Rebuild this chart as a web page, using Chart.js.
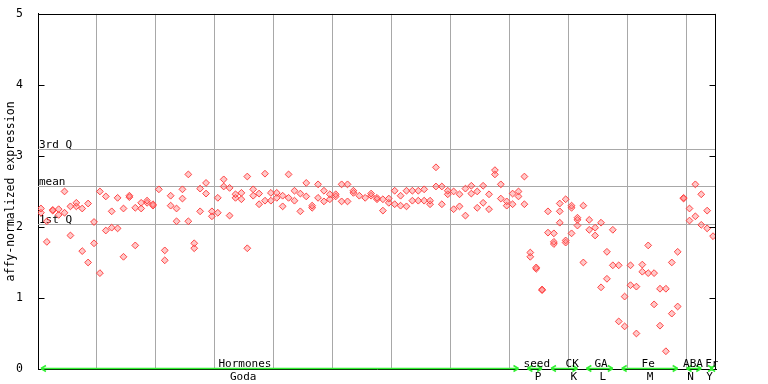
<!DOCTYPE html>
<html><head><meta charset="utf-8">
<script src="https://cdn.jsdelivr.net/npm/chart.js@4/dist/chart.umd.min.js"></script>
<style>html,body{margin:0;padding:0;background:#fff;}</style>
</head><body>
<canvas id="c" width="768" height="384"></canvas>
<script>
// replicate values per sample (sample index 0..114)
const rep1 = [2.26,2.08,2.24,2.25,2.50,2.29,2.34,2.26,2.33,2.07,
2.50,2.43,2.22,2.41,2.26,2.44,2.27,2.34,2.37,2.32,
2.53,1.67,2.44,2.26,2.53,2.74,1.77,2.54,2.62,2.22,
2.41,2.67,2.55,2.46,2.48,2.71,2.53,2.47,2.75,2.48,
2.48,2.44,2.74,2.51,2.47,2.62,2.30,2.60,2.51,2.46,
2.46,2.60,2.60,2.51,2.44,2.41,2.47,2.41,2.39,2.40,
2.51,2.44,2.51,2.51,2.51,2.53,2.37,2.84,2.57,2.51,
2.50,2.46,2.54,2.58,2.50,2.58,2.46,2.80,2.60,2.36,
2.47,2.50,2.71,1.64,1.43,1.12,2.22,1.91,2.33,2.39,
2.30,2.13,2.30,2.10,1.99,2.06,1.65,1.96,1.46,1.02,
1.46,1.16,1.47,1.74,1.35,1.13,1.13,1.50,1.65,2.41,
2.26,2.60,2.46,2.23,1.87];
const rep2 = [2.20,1.79,2.23,2.17,2.20,1.88,2.29,1.66,1.50,1.77,
1.35,1.95,1.99,1.98,1.58,2.42,1.74,2.26,2.34,2.30,
null,1.53,2.30,2.08,2.40,2.08,1.70,2.22,2.47,2.15,
2.20,2.57,2.16,2.41,2.39,1.70,2.44,2.32,2.37,2.37,
2.41,2.29,2.41,2.37,2.22,2.43,2.27,2.41,2.36,2.39,
2.43,2.36,2.36,2.48,null,null,2.44,2.39,2.23,2.34,
2.32,2.30,2.29,2.37,2.37,2.37,2.32,2.57,2.32,2.46,
2.25,2.29,2.16,2.47,2.27,2.34,2.25,2.74,2.40,2.30,
2.32,2.43,2.32,1.58,1.41,1.11,1.92,1.79,2.22,1.81,
2.27,2.10,1.50,1.96,1.88,1.15,1.27,1.46,0.67,0.60,
1.18,0.50,1.37,1.35,0.91,0.61,0.25,0.78,0.88,2.40,
2.09,2.15,2.03,1.98,null];
const rep3Index = [87,88,89,90,91];
const rep3Values = [1.76,2.06,1.78,1.91,2.02];

const statValues = [3.10, 2.58, 2.04];
const statLabels = ['3rd Q','mean','1st Q'];

const groupNames = ['Hormones','seed','CK','GA','Fe','ABA','Fr'];
const groupCodes = ['Goda','P','K','L','M','N','Y'];
const groupStart = [0,82,86,92,98,109,113];
const groupEnd   = [81,85,91,97,108,112,114];

const yTicks = [0,1,2,3,4,5];
const xGridEvery = 10;
const sampleCount = rep1.length;

const FONT = "'DejaVu Sans Mono','Liberation Mono',monospace";
const GREEN = '#33f033';

const toPts = arr => arr.map((v,i)=> v==null?null:{x:i,y:v}).filter(Boolean);
const mkDs = data => ({data, pointStyle:'rectRot', pointRadius:3.4, pointBorderWidth:1,
  pointBorderColor:'rgba(255,60,60,0.95)', pointBackgroundColor:'rgba(255,120,120,0.4)',
  pointHoverRadius:3.4, showLine:false});

const overlay = {
  id:'overlay',
  beforeDatasetsDraw(chart){
    const {ctx, chartArea:a, scales:{y}} = chart;
    ctx.save();
    ctx.strokeStyle='#a8a8a8'; ctx.lineWidth=1;
    ctx.font = '11px ' + FONT; ctx.fillStyle='#000'; ctx.textBaseline='alphabetic'; ctx.textAlign='left';
    statValues.forEach((v,k)=>{
      const py = Math.round(y.getPixelForValue(v))+0.5;
      ctx.beginPath(); ctx.moveTo(a.left,py); ctx.lineTo(a.right,py); ctx.stroke();
      ctx.fillText(statLabels[k], a.left+1, py-2);
    });
    ctx.restore();
  },
  afterDraw(chart){
    const {ctx, chartArea:a, scales:{x,y}} = chart;
    ctx.save();
    ctx.strokeStyle='#000'; ctx.lineWidth=1;
    const L = Math.round(a.left)+0.5, R = Math.round(a.right)-0.5, T=Math.round(a.top)+0.5;
    ctx.beginPath(); ctx.moveTo(L,T); ctx.lineTo(R,T); ctx.moveTo(R,a.top); ctx.lineTo(R,a.bottom); ctx.stroke();
    yTicks.forEach(v=>{
      const py = Math.round(y.getPixelForValue(v))+0.5;
      ctx.beginPath(); ctx.moveTo(L,py); ctx.lineTo(L+6,py); ctx.moveTo(R,py); ctx.lineTo(R-6,py); ctx.stroke();
    });
    // groups
    const by = Math.round(a.bottom)-0.5;
    ctx.strokeStyle=GREEN; ctx.fillStyle=GREEN; ctx.lineWidth=1.5;
    groupNames.forEach((g,k)=>{
      let x0 = x.getPixelForValue(groupStart[k]) + (groupStart[k]>0?3:0);
      let x1 = x.getPixelForValue(groupEnd[k]);
      ctx.beginPath(); ctx.moveTo(x0,by); ctx.lineTo(x1,by); ctx.stroke();
      ctx.beginPath(); ctx.moveTo(x0,by); ctx.lineTo(x0+5,by-3); ctx.moveTo(x0,by); ctx.lineTo(x0+5,by+3);
      ctx.moveTo(x1,by); ctx.lineTo(x1-5,by-3); ctx.moveTo(x1,by); ctx.lineTo(x1-5,by+3); ctx.stroke();
    });
    ctx.fillStyle='#000'; ctx.font='11px '+FONT; ctx.textAlign='center'; ctx.textBaseline='alphabetic';
    const labelAt = [34.6,84.1,90.1,95.0,103.0,110.6,113.8];
    const codeAt  = [34.3,84.3,90.4,95.3,103.3,110.2,113.4];
    groupNames.forEach((g,k)=>{
      ctx.fillText(g, x.getPixelForValue(labelAt[k]), a.bottom-2);
      ctx.fillText(groupCodes[k], x.getPixelForValue(codeAt[k]), a.bottom+11);
    });
    ctx.restore();
  }
};

new Chart(document.getElementById('c').getContext('2d'), {
  type:'scatter',
  data:{datasets:[mkDs(toPts(rep1)), mkDs(toPts(rep2)), mkDs(rep3Index.map((xi,k)=>({x:xi,y:rep3Values[k]})))]},
  options:{
    responsive:false, animation:false, devicePixelRatio:1,
    layout:{padding:{left:0,right:52,top:13,bottom:15}},
    plugins:{legend:{display:false}, tooltip:{enabled:false}},
    scales:{
      x:{type:'linear', min:-0.5, max:sampleCount-0.5,
         afterBuildTicks:s=>{const t=[]; for(let v=-0.5+xGridEvery; v<sampleCount-1; v+=xGridEvery) t.push({value:v}); s.ticks=t;},
         grid:{color:'#a8a8a8', drawTicks:false, lineWidth:1},
         border:{display:true,color:'#000'},
         ticks:{display:false}, afterFit:s=>{s.height=0;}},
      y:{min:0,max:5,
         afterBuildTicks:s=>{s.ticks=yTicks.map(v=>({value:v}));},
         grid:{display:false}, border:{display:true,color:'#000'},
         ticks:{color:'#000', font:{family:FONT,size:11.5}, padding:7},
         title:{display:true,text:'affy-normalized expression',color:'#000',font:{family:FONT,size:11.5},padding:{top:4,bottom:0}},
         afterFit:s=>{s.width=38;}}
    }
  },
  plugins:[overlay]
});
</script>
</body></html>
